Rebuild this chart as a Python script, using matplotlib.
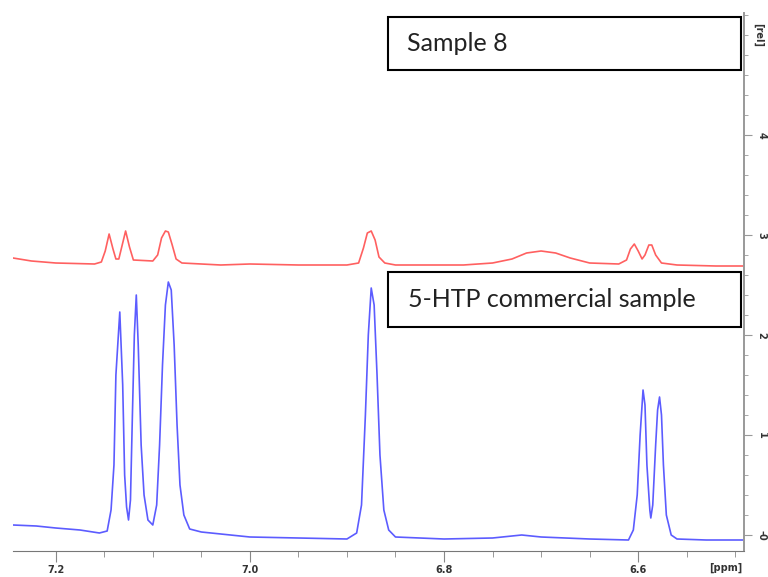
import numpy as np
import matplotlib.pyplot as plt
from matplotlib.patches import Rectangle
from matplotlib.ticker import MultipleLocator, FixedLocator, FixedFormatter

blue_ppm = [7.244, 7.220, 7.200, 7.175, 7.155, 7.147, 7.143, 7.140, 7.138, 7.134,
            7.131, 7.129, 7.127, 7.125, 7.123, 7.121, 7.119, 7.117, 7.115, 7.112,
            7.109, 7.105, 7.100, 7.096, 7.093, 7.090, 7.087, 7.084, 7.081, 7.078,
            7.075, 7.072, 7.068, 7.062, 7.050, 7.000, 6.950, 6.900, 6.890, 6.885,
            6.881, 6.878, 6.875, 6.872, 6.869, 6.866, 6.862, 6.857, 6.850, 6.800,
            6.750, 6.720, 6.700, 6.650, 6.610, 6.605, 6.601, 6.598, 6.595, 6.593,
            6.591, 6.588, 6.587, 6.585, 6.582, 6.580, 6.578, 6.576, 6.574, 6.571,
            6.566, 6.560, 6.530, 6.491]
blue_int = [0.10, 0.09, 0.07, 0.05, 0.02, 0.04, 0.25, 0.70, 1.60, 2.23,
            1.50, 0.60, 0.28, 0.15, 0.35, 1.20, 2.00, 2.40, 1.90, 0.90,
            0.40, 0.15, 0.10, 0.30, 0.90, 1.70, 2.30, 2.53, 2.45, 1.90,
            1.10, 0.50, 0.20, 0.06, 0.03, -0.02, -0.03, -0.04, 0.02, 0.30,
            1.20, 2.00, 2.47, 2.30, 1.60, 0.80, 0.25, 0.05, -0.02, -0.04,
            -0.03, 0.00, -0.02, -0.04, -0.05, 0.05, 0.40, 1.00, 1.45, 1.30,
            0.70, 0.25, 0.17, 0.30, 0.90, 1.25, 1.38, 1.20, 0.70, 0.20,
            0.00, -0.04, -0.05, -0.05]

red_ppm = [7.244, 7.225, 7.200, 7.160, 7.153, 7.149, 7.145, 7.141, 7.138, 7.135,
           7.132, 7.128, 7.124, 7.120, 7.100, 7.095, 7.091, 7.087, 7.084, 7.080,
           7.076, 7.070, 7.030, 7.000, 6.950, 6.900, 6.888, 6.883, 6.879, 6.875,
           6.871, 6.867, 6.861, 6.850, 6.780, 6.750, 6.730, 6.715, 6.700, 6.685,
           6.670, 6.650, 6.620, 6.612, 6.608, 6.604, 6.600, 6.596, 6.593, 6.589,
           6.586, 6.582, 6.576, 6.560, 6.520, 6.491]
red_int = [2.77, 2.74, 2.72, 2.71, 2.73, 2.84, 3.01, 2.86, 2.76, 2.76,
           2.88, 3.04, 2.88, 2.75, 2.74, 2.80, 2.97, 3.04, 3.03, 2.90,
           2.76, 2.72, 2.70, 2.71, 2.70, 2.70, 2.72, 2.87, 3.02, 3.04,
           2.95, 2.78, 2.72, 2.70, 2.70, 2.72, 2.76, 2.82, 2.84, 2.82,
           2.77, 2.72, 2.71, 2.75, 2.86, 2.91, 2.84, 2.76, 2.80, 2.90,
           2.90, 2.80, 2.72, 2.70, 2.69, 2.69]

x_major = [7.2, 7.0, 6.8, 6.6]
x_labels = ["7.2", "7.0", "6.8", "6.6"]
y_major = [0, 1, 2, 3, 4]
y_labels = ["-0", "1", "2", "3", "4"]

W, H = 768, 577
fig = plt.figure(figsize=(W / 100, H / 100), dpi=100)
ax = fig.add_axes([13 / W, 1 - 551 / H, (744 - 13) / W, (551 - 13) / H])

ax.plot(red_ppm, red_int, color="#ff6060", lw=1.2)
ax.plot(blue_ppm, blue_int, color="#5c5cff", lw=1.2)

ax.set_xlim(7.244, 6.491)
ax.set_ylim(-0.16, 5.22)

for s in ["top", "left"]:
    ax.spines[s].set_visible(False)
ax.spines["bottom"].set_color("#777777")
ax.spines["right"].set_color("#999999")
ax.spines["right"].set_linewidth(1.4)

ax.xaxis.set_major_locator(FixedLocator(x_major))
ax.xaxis.set_major_formatter(FixedFormatter(x_labels))
ax.xaxis.set_minor_locator(MultipleLocator(0.05))
ax.tick_params(axis="x", which="major", length=8, color="#888888", labelsize=7,
               labelcolor="#333333", pad=2)
ax.tick_params(axis="x", which="minor", length=4, color="#888888")
for t in ax.get_xticklabels():
    t.set_fontweight("bold")

ax.yaxis.tick_right()
ax.yaxis.set_major_locator(FixedLocator(y_major))
ax.yaxis.set_major_formatter(FixedFormatter(y_labels))
ax.yaxis.set_minor_locator(MultipleLocator(0.2))
ax.tick_params(axis="y", which="major", length=6, color="#999999", labelsize=7,
               labelcolor="#333333", pad=3, labelrotation=-90)
ax.tick_params(axis="y", which="minor", length=3, color="#999999")
for t in ax.get_yticklabels():
    t.set_fontweight("bold")
    t.set_va("center")

ax.text(1.012, (5 + 0.16) / 5.38, "[rel]", transform=ax.transAxes, rotation=-90,
        fontsize=7, fontweight="bold", color="#333333", va="center", ha="left")
ax.text(0.975, -0.022, "[ppm]", transform=ax.transAxes, fontsize=7,
        fontweight="bold", color="#333333", va="top", ha="center")

# annotation boxes
for (y0, y1, label, tx) in [(17, 70, "Sample 8", 407), (272, 327, "5-HTP commercial sample", 408)]:
    fig.add_artist(Rectangle((388 / W, 1 - y1 / H), (741 - 388) / W, (y1 - y0) / H,
                             transform=fig.transFigure, facecolor="white",
                             edgecolor="black", lw=1.5, zorder=5))
    fig.text(tx / W, 1 - (y0 + y1) / 2 / H, label, fontsize=18, family=["Lato", "DejaVu Sans"],
             color="#222222", va="center", ha="left", zorder=6)

fig.savefig("out.png", dpi=100)
